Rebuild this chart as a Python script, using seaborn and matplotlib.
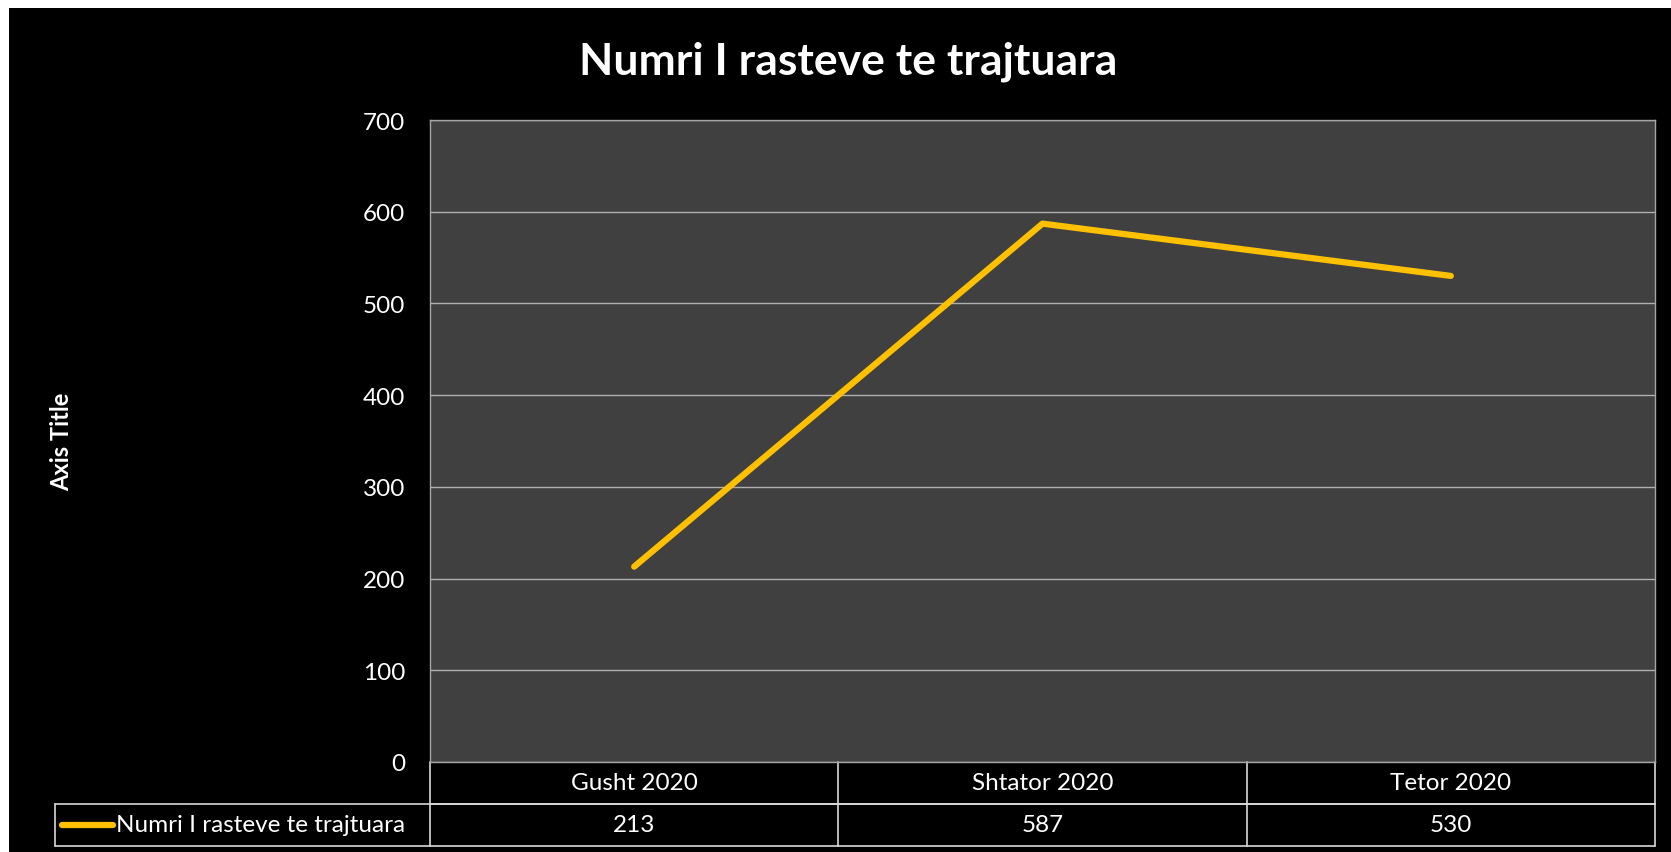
import numpy as np
import pandas as pd
import matplotlib
matplotlib.use("Agg")
import matplotlib.pyplot as plt
import matplotlib.transforms as mtransforms
from matplotlib.patches import Rectangle
import seaborn as sns

# data
months = ["Gusht 2020", "Shtator 2020", "Tetor 2020"]
cases = [213, 587, 530]
series_name = "Numri I rasteve te trajtuara"
chart_title = "Numri I rasteve te trajtuara"
y_ticks = [0, 100, 200, 300, 400, 500, 600, 700]

sns.set_theme(style="dark")
plt.rcParams['font.family'] = ['Lato', 'DejaVu Sans']

W, H = 1671, 853
fs = 17.5
fig = plt.figure(figsize=(W / 100, H / 100), dpi=100, facecolor="white")
# black chart area with thin white margin top/left
fig.patches.append(Rectangle((9 / W, 0), 1, 1 - 9 / H, transform=fig.transFigure,
                             facecolor="black", edgecolor="none", zorder=-10))

# plot area in pixels: x 430..1655, y 121..763
ax = fig.add_axes([430 / W, 1 - 763 / H, (1655 - 430) / W, (763 - 121) / H])
ax.set_facecolor("#404040")

df = pd.DataFrame({"month": months, "cases": cases})
sns.lineplot(data=df, x="month", y="cases", ax=ax, color="#FFC000",
             linewidth=4.5, sort=False)
for ln in ax.get_lines():
    ln.set_solid_capstyle("round")
    ln.set_solid_joinstyle("round")

ax.set_xlim(-0.5, 2.5)
ax.set_ylim(0, 700)
ax.set_yticks(y_ticks)
ax.set_yticklabels([str(t) for t in y_ticks], color="white", fontsize=fs)
ax.tick_params(axis="y", length=0, pad=18)
ax.set_xticks([])
ax.set_xlabel("")
ax.set_ylabel("")
ax.grid(axis="y", color="#b0b0b0", linewidth=1)
ax.grid(axis="x", visible=False)
for s in ax.spines.values():
    s.set_visible(True)
    s.set_color("#a6a6a6")
    s.set_linewidth(1)

# axis title
fig.text(62 / W, 1 - 442 / H, "Axis Title", rotation=90, color="white",
         fontsize=17, fontweight="bold", ha="center", va="center")

# chart title
fig.text(848 / W, 1 - 62 / H, chart_title, color="white", fontsize=32,
         fontweight="bold", ha="center", va="center")

# data table below plot
blend = mtransforms.blended_transform_factory(ax.transData, ax.transAxes)
rh = 42 / (763 - 121)
left_x = -0.5 + (55 - 430) / (1655 - 430) * 3
lc = "#d9d9d9"
kw = dict(transform=blend, clip_on=False, color=lc, linewidth=1.2)
ax.plot([-0.5, 2.5], [-rh, -rh], **kw)
ax.plot([left_x, 2.5], [-rh, -rh], **kw)
ax.plot([left_x, 2.5], [-2 * rh, -2 * rh], **kw)
ax.plot([left_x, left_x], [-rh, -2 * rh], **kw)
for i in range(4):
    ax.plot([i - 0.5, i - 0.5], [0, -2 * rh], **kw)
for i, (m, v) in enumerate(zip(months, cases)):
    ax.text(i, -0.5 * rh, m, transform=blend, ha="center", va="center",
            color="white", fontsize=fs)
    ax.text(i, -1.5 * rh, str(v), transform=blend, ha="center", va="center",
            color="white", fontsize=fs)

# legend key inside row header
sw0 = -0.5 + (62 - 430) / 1225 * 3
sw1 = -0.5 + (113 - 430) / 1225 * 3
ax.plot([sw0, sw1], [-1.5 * rh, -1.5 * rh], transform=blend, clip_on=False,
        color="#FFC000", linewidth=4.5, solid_capstyle="round")
ax.text(-0.5 + (116 - 430) / 1225 * 3, -1.5 * rh, series_name, transform=blend,
        ha="left", va="center", color="white", fontsize=fs)

fig.savefig("out.png", dpi=100, facecolor=fig.get_facecolor())
